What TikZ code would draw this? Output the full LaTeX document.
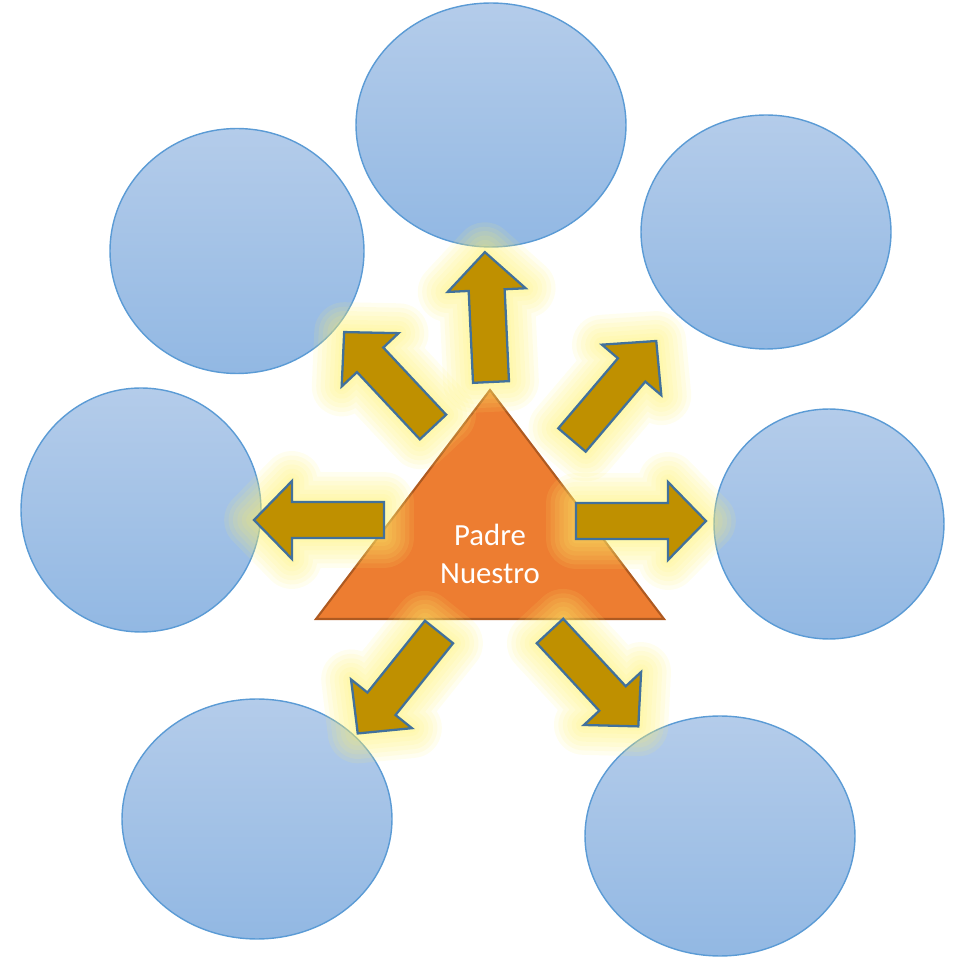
\documentclass[tikz,border=0pt]{standalone}
\usepackage{fontspec}
\newfontfamily\bodyfont{Carlito}
\usetikzlibrary{shapes.geometric}
\definecolor{bubbletop}{RGB}{180,204,234}
\definecolor{bubblebottom}{RGB}{146,184,227}
\definecolor{bubbleline}{RGB}{91,155,213}
\definecolor{triorange}{RGB}{237,125,49}
\definecolor{triline}{RGB}{174,90,33}
\definecolor{arrowgold}{RGB}{191,144,0}
\definecolor{arrowline}{RGB}{65,113,156}
\definecolor{glowyellow}{RGB}{255,242,110}

\tikzset{
  bubble/.style={ellipse, draw=bubbleline, line width=0.8pt, top color=bubbletop, bottom color=bubblebottom, inner sep=0pt},
  pics/blockarrow/.style={code={
    % soft glow first
    \foreach \w in {34,29,24,19,14,9,5}
      \draw[glowyellow, line width=\w pt, opacity=0.11, line join=round]
        (0,-18) -- (92,-18) -- (92,-39) -- (130,0) -- (92,39) -- (92,18) -- (0,18) -- cycle;
    \draw[fill=arrowgold, draw=arrowline, line width=1.3pt]
        (0,-18) -- (92,-18) -- (92,-39) -- (130,0) -- (92,39) -- (92,18) -- (0,18) -- cycle;
  }}
}

\begin{document}
\begin{tikzpicture}[x=0.02cm, y=0.02cm]
    \useasboundingbox (0,0) rectangle (953,958);
    % outer circles
    \node[bubble, minimum width=5.40cm, minimum height=4.88cm] (top) at (491,833) {};
    \node[bubble, minimum width=5.08cm, minimum height=4.90cm] (upleft) at (237,707) {};
    \node[bubble, minimum width=5.00cm, minimum height=4.68cm] (upright) at (766,726) {};
    \node[bubble, minimum width=4.80cm, minimum height=4.88cm] (left) at (141,448) {};
    \node[bubble, minimum width=4.60cm, minimum height=4.60cm] (right) at (829,434) {};
    \node[bubble, minimum width=5.40cm, minimum height=4.80cm] (lowleft) at (257,139) {};
    \node[bubble, minimum width=5.40cm, minimum height=4.80cm] (lowright) at (720,122) {};
    % central triangle
    \coordinate (apex) at (490,568);
    \coordinate (baseL) at (316,339);
    \coordinate (baseR) at (664,339);
    \draw[fill=triorange, draw=triline, line width=1.2pt] (apex) -- (baseR) -- (baseL) -- cycle;
    \node[text=white, font=\bodyfont\fontsize{17.5}{22}\selectfont, align=center] (title) at (490,404) {Padre\\Nuestro};
    % arrows
    \foreach \x/\y/\a in {491/576/92.7, 433/531/133.1, 572/518/49.6, 384/438/180, 576/437/0, 439/326/231.3, 550/327/-47.2}
      \pic[rotate=\a] at (\x,\y) {blockarrow};
\end{tikzpicture}
\end{document}
